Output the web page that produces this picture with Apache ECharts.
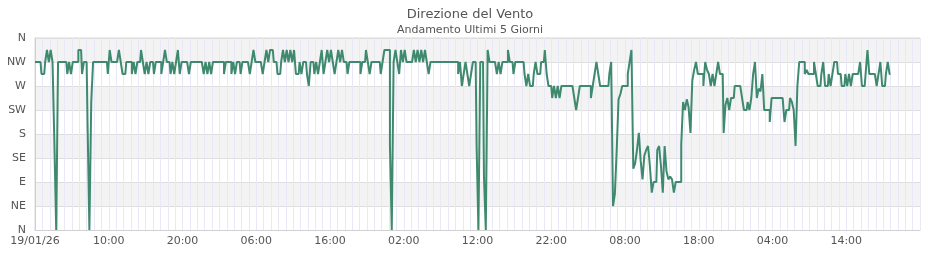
<!DOCTYPE html>
<html><head><meta charset="utf-8">
<script src="https://cdn.jsdelivr.net/npm/echarts@6/dist/echarts.min.js"></script>
<style>html,body{margin:0;padding:0;background:#fff}#c{width:940px;height:260px}</style>
</head><body><div id="c"></div>
<script>
// Wind direction (degrees), sampled every 15 minutes, one array per day
var day1 = [315,315,315,315,292.5,292.5,315,337.5,315,337.5,
 315,165,0,315,315,315,315,315,292.5,315,
 292.5,315,315,315,337.5,337.5,292.5,315,315,200,
 0,240,315,315,315,315,315,315,315,315,
 292.5,337.5,315,315,315,315,337.5,315,292.5,292.5,
 315,315,315,292.5,315,292.5,315,315,337.5,315,
 292.5,315,292.5,315,315,292.5,315,315,315,292.5,
 315,337.5,315,315,292.5,315,292.5,315,337.5,292.5,
 315,315,315,315,292.5,315,315,315,315,315,315,315,292.5,315,292.5,315];
var day2 = [292.5,315,315,315,315,315,315,292.5,315,315,
 315,292.5,315,292.5,315,315,292.5,315,315,315,
 315,292.5,315,337.5,315,315,315,315,292.5,315,
 337.5,315,337.5,337.5,315,315,292.5,292.5,315,337.5,
 315,337.5,315,337.5,315,337.5,292.5,292.5,315,292.5,
 315,315,292.5,270,315,315,292.5,315,292.5,315,
 337.5,292.5,315,337.5,315,
 337.5,315,292.5,315,337.5,315,337.5,315,315,292.5,
 315,315,315,315,315,315,292.5,315,315,337.5,
 315,292.5,315,315,315,315,315,292.5,315,337.5,337.5];
var day3 = [337.5,160,0,315,337.5,315,292.5,337.5,315,337.5,
 315,315,315,315,337.5,315,337.5,315,337.5,315,
 337.5,315,292.5,315,
 315,315,315,315,315,315,315,315,315,315,315,315,315,315,
 292.5,315,270,292.5,315,292.5,270,292.5,315,315,160,
 0,315,315,100,0,337.5,315,315,315,315,
 292.5,315,292.5,315,315,315,337.5,315,315,292.5,
 315,315,315,315,315,292.5,270,292.5,270,270,
 292.5,315,292.5,292.5,315,315,337.5,292.5,270,270,
 247.5,270,247.5,270,247.5,270,270];
var day4 = [270,270,270,270,270,247.5,225,247.5,270,270,
 270,270,270,270,247.5,270,292.5,315,292.5,270,
 270,270,270,270,292.5,315,45,67.5,150,245,
 255,270,270,
 270,292.5,315,337.5,115,125,150,182,130,95,
 140,150,157.5,120,70,90,90,150,157.5,120,
 70,157.5,110,95,100,95,70,90,90,90,
 160,240,225,245,230,182,280,300,315,292.5,
 292.5,292.5,270,315,300,292.5,270,292.5,270,292.5,
 315,292.5,292.5,182,235,247.5,225,247.5,247.5,270,
 270,270,270];
var day5 = [247.5,225,225,240,225,247.5,292.5,315,247.5,265,260,292.5,225,225,225,202.5,247.5,
 247.5,247.5,247.5,247.5,247.5,247.5,202.5,225,225,247.5,
 240,225,157.5,270,315,315,315,292.5,300,292.5,
 292.5,292.5,315,292.5,270,270,292.5,315,270,270,
 292.5,270,292.5,315,315,292.5,292.5,270,270,292.5,
 270,292.5,270,292.5,292.5,292.5,292.5,315,270,270,
 292.5,337.5,292.5,292.5,292.5,292.5,270,292.5,315,270,
 270,292.5,315,292.5];
var xTickLabels = ['19/01/26','10:00','20:00','06:00','16:00','02:00','12:00','22:00','08:00','18:00','04:00','14:00',''];
var yTickLabels = ['N','NE','E','SE','S','SW','W','NW','N'];
var titleText = 'Direzione del Vento';
var subtitleText = 'Andamento Ultimi 5 Giorni';

var values = day1.concat(day2, day3, day4, day5);
var stepHours = 0.25;
var data = values.map(function (v, i) { return [i * stepHours, v]; });

var chart = echarts.init(document.getElementById('c'), null, {renderer: 'canvas'});
chart.setOption({
  animation: false,
  backgroundColor: '#fff',
  title: {
    text: titleText, subtext: subtitleText, left: 'center', top: 3, itemGap: 4,
    textStyle: {fontFamily: 'DejaVu Sans', fontSize: 13, fontWeight: 'normal', color: '#555'},
    subtextStyle: {fontFamily: 'DejaVu Sans', fontSize: 11, color: '#555'}
  },
  grid: {left: 35, right: 20, top: 38, bottom: 30, show: true, borderColor: '#d8d8d8', borderWidth: 1, backgroundColor: 'transparent'},
  xAxis: {
    type: 'value', min: 0, max: 120, interval: 10,
    axisLine: {show: true, lineStyle: {color: '#d0d0d0'}},
    axisTick: {show: false},
    axisLabel: {
      fontFamily: 'DejaVu Sans', fontSize: 11, color: '#555', margin: 6,
      formatter: function (v) { return xTickLabels[Math.round(v / 10)] || ''; }
    },
    splitLine: {show: true, lineStyle: {color: '#e8e8f8', width: 1}},
    minorTick: {show: false, splitNumber: 10},
    minorSplitLine: {show: true, lineStyle: {color: '#e8e8f8', width: 1}}
  },
  yAxis: {
    type: 'value', min: 0, max: 360, interval: 45,
    axisLine: {show: true, lineStyle: {color: '#d0d0d0'}},
    axisTick: {show: false},
    axisLabel: {
      fontFamily: 'DejaVu Sans', fontSize: 11, color: '#555', margin: 9,
      formatter: function (v) { return yTickLabels[Math.round(v / 45)]; }
    },
    splitLine: {show: true, lineStyle: {color: '#dedede'}},
    splitArea: {show: true, areaStyle: {color: ['#ffffff', '#f3f3f4']}}
  },
  series: [{
    type: 'line', data: data, showSymbol: false, symbol: 'none', step: 'middle',
    lineStyle: {color: '#3f8a6f', width: 2}, z: 5
  }]
});
</script></body></html>
